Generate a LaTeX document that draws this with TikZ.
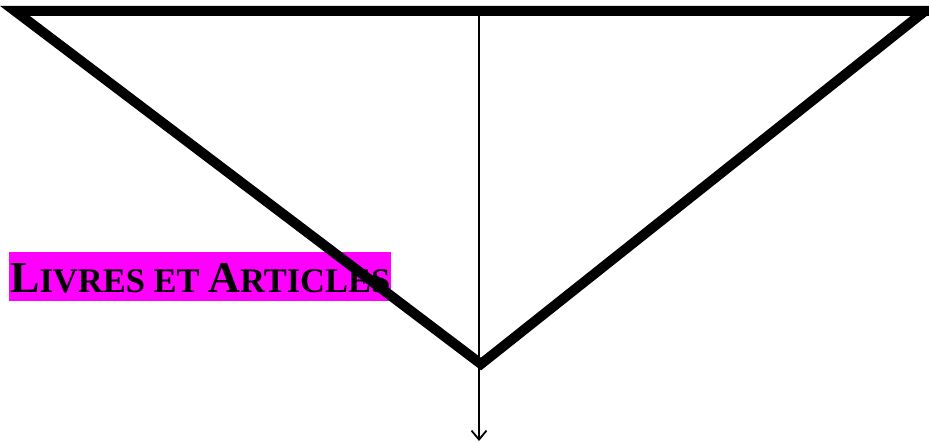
\documentclass[tikz,border=0pt]{standalone}
\usepackage{fontspec}
\setmainfont{Liberation Serif}
\usetikzlibrary{arrows.meta}
\definecolor{hilite}{RGB}{255,0,255}
\newcommand{\bigc}[1]{{\fontsize{44}{44}\selectfont #1}}
\newcommand{\smc}[1]{{\fontsize{34.5}{34.5}\selectfont #1}}
\tikzset{
  tri/.style={line width=10pt, line join=miter, draw=black},
  axis/.style={line width=1.8pt, -{Straight Barb[length=9pt,width=15pt,line width=1.8pt]}},
  label/.style={fill=hilite, inner sep=0pt, minimum width=382pt, minimum height=49pt, anchor=north west},
}
\begin{document}
\begin{tikzpicture}[x=1pt,y=-1pt]
\useasboundingbox (0,0) rectangle (929,443);
\node[label] (lbl) at (9,252) {};
\node[anchor=base west, inner sep=0pt, font=\bfseries] (txt) at (10,293) {\bigc{L}\smc{IVRES ET }\bigc{A}\smc{RTICLES}};
\coordinate (tl) at (15,11);
\coordinate (tr) at (925,11);
\coordinate (bt) at (481,364);
\coordinate (top) at (479,15);
\coordinate (end) at (479,441);
\draw[tri] (tl) -- (tr) -- (bt) -- cycle;
\draw[line width=10pt] (tr) -- (929,11);
\draw[axis] (top) -- (end);
\end{tikzpicture}
\end{document}
